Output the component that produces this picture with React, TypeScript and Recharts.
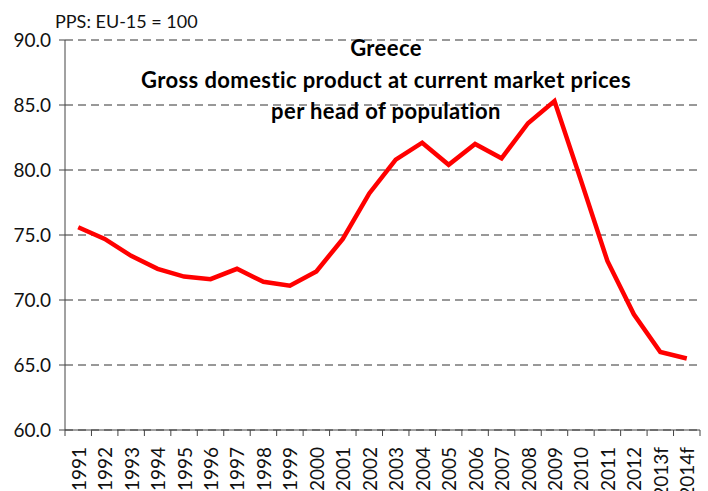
import React from 'react';
import { LineChart, Line, XAxis, YAxis, CartesianGrid } from 'recharts';

const years = [
  '1991', '1992', '1993', '1994', '1995', '1996', '1997', '1998', '1999', '2000',
  '2001', '2002', '2003', '2004', '2005', '2006', '2007', '2008', '2009', '2010',
  '2011', '2012', '2013f', '2014f',
];

const gdpPerHead = [
  75.6, 74.7, 73.4, 72.4, 71.8, 71.6, 72.4, 71.4, 71.1, 72.2,
  74.7, 78.2, 80.8, 82.1, 80.4, 82.0, 80.9, 83.6, 85.3, 79.2,
  73.0, 68.9, 66.0, 65.5,
];

const yTicks = [60, 65, 70, 75, 80, 85, 90];

const titleLines = ['Greece', 'Gross domestic product at current market prices', 'per head of population'];

const data = years.map((year, i) => ({ idx: i, year, value: gdpPerHead[i] }));

// integer ticks carry the year labels, half ticks carry the tick marks between years
const xTicks = years.flatMap((_, i) => [i - 0.5, i]).concat(years.length - 0.5);

const FONT = 'Lato, "Open Sans", sans-serif';
const AXIS = '#444';

function YearTick(props: any) {
  const { x, y, payload } = props;
  const v = payload.value;
  if (!Number.isInteger(v)) {
    return <line x1={x} x2={x} y1={y} y2={y + 6} stroke={AXIS} strokeWidth={1} />;
  }
  const ty = y + 17;
  return (
    <text
      x={x}
      y={ty}
      transform={`rotate(-90, ${x}, ${ty})`}
      textAnchor="end"
      dominantBaseline="central"
      fontFamily={FONT}
      fontSize={19}
      fill="#111"
    >
      {years[v]}
    </text>
  );
}

export default function App() {
  return (
    <div style={{ position: 'absolute', left: 0, top: 0, width: 708, height: 491, background: '#fff' }}>
      <LineChart width={708} height={491} data={data} margin={{ top: 40, right: 8, left: 8, bottom: 0 }}>
        <CartesianGrid vertical={false} stroke="#333" strokeDasharray="8 5" />
        <XAxis
          dataKey="idx"
          type="number"
          domain={[-0.5, years.length - 0.5]}
          ticks={xTicks}
          interval={0}
          height={61}
          tickLine={false}
          tickSize={0}
          tickMargin={0}
          tick={<YearTick />}
          axisLine={{ stroke: AXIS }}
        />
        <YAxis
          type="number"
          domain={[60, 90]}
          ticks={yTicks}
          interval={0}
          width={57}
          tickSize={6}
          tickMargin={8}
          tickFormatter={(v: number) => v.toFixed(1)}
          tick={{ fontFamily: FONT, fontSize: 19, fill: '#111' }}
          axisLine={{ stroke: AXIS }}
          tickLine={{ stroke: AXIS }}
        />
        <Line
          type="linear"
          dataKey="value"
          stroke="#ff0000"
          strokeWidth={4.5}
          dot={false}
          isAnimationActive={false}
        />
      </LineChart>
      <svg width={708} height={491} style={{ position: 'absolute', left: 0, top: 0, pointerEvents: 'none' }}>
        <text x={55} y={28} fontFamily={FONT} fontSize={18} fill="#111">
          PPS: EU-15 = 100
        </text>
        {titleLines.map((t, i) => (
          <text
            key={t}
            x={386}
            y={56 + i * 31.5}
            textAnchor="middle"
            fontFamily={FONT}
            fontWeight="bold"
            fontSize={22}
            letterSpacing={0.4}
            fill="#000"
          >
            {t}
          </text>
        ))}
      </svg>
    </div>
  );
}
